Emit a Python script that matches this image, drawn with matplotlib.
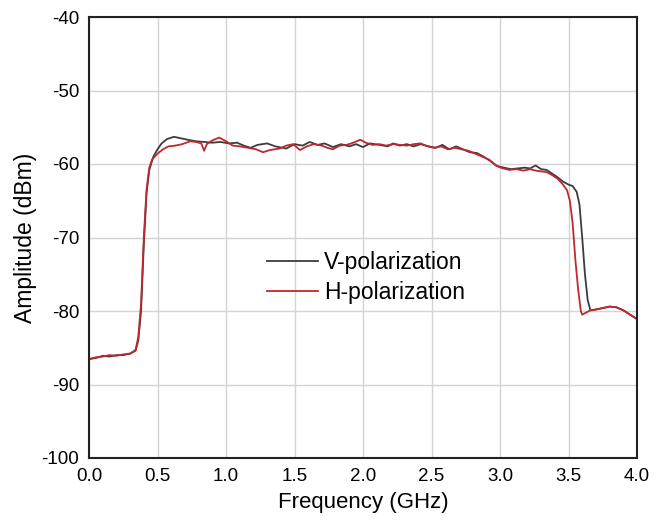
import matplotlib
matplotlib.use('Agg')
from matplotlib import pyplot as plt

plt.rcParams['font.family'] = ['Liberation Sans', 'DejaVu Sans']
plt.rcParams['axes.unicode_minus'] = False

# V-polarization trace
v_freq = [0.00, 0.05, 0.10, 0.15, 0.20, 0.25, 0.30, 0.34, 0.36, 0.38,
          0.40, 0.42, 0.44, 0.47, 0.50, 0.53, 0.57, 0.62, 0.67, 0.72,
          0.78, 0.84, 0.90, 0.96, 1.02, 1.08, 1.13, 1.18, 1.23, 1.30,
          1.36, 1.44, 1.50, 1.56, 1.61, 1.67, 1.72, 1.78, 1.84, 1.90,
          1.95, 2.00, 2.05, 2.12, 2.18, 2.22, 2.27, 2.32, 2.37, 2.42,
          2.48, 2.53, 2.58, 2.63, 2.68, 2.73, 2.78, 2.83, 2.88, 2.93,
          2.98, 3.03, 3.08, 3.13, 3.18, 3.22, 3.26, 3.30, 3.34, 3.38,
          3.42, 3.46, 3.50, 3.53, 3.56, 3.58, 3.60, 3.62, 3.64, 3.66,
          3.70, 3.75, 3.80, 3.85, 3.90, 3.95, 4.00]
v_amp = [-86.5, -86.4, -86.1, -86.2, -86.0, -86.0, -85.8, -85.4, -84.0, -80.0,
         -71.0, -64.0, -60.8, -59.0, -58.0, -57.2, -56.6, -56.3, -56.5, -56.7,
         -56.9, -57.0, -57.1, -57.0, -57.2, -57.1, -57.5, -57.8, -57.4, -57.2,
         -57.6, -57.9, -57.3, -57.5, -57.0, -57.4, -57.2, -57.7, -57.3, -57.6,
         -57.3, -57.7, -57.2, -57.4, -57.6, -57.2, -57.5, -57.3, -57.6, -57.3,
         -57.6, -57.8, -57.4, -58.0, -57.6, -58.0, -58.4, -58.5, -59.0, -59.6,
         -60.3, -60.5, -60.7, -60.6, -60.5, -60.6, -60.2, -60.7, -60.8, -61.3,
         -61.8, -62.4, -62.8, -63.0, -63.8, -65.5, -70.0, -75.0, -78.5, -79.9,
         -79.8, -79.6, -79.4, -79.5, -79.9, -80.5, -81.1]

# H-polarization trace
h_freq = [0.00, 0.05, 0.10, 0.15, 0.20, 0.25, 0.30, 0.34, 0.36, 0.38,
          0.40, 0.42, 0.44, 0.46, 0.48, 0.50, 0.54, 0.58, 0.63, 0.68,
          0.74, 0.78, 0.82, 0.84, 0.86, 0.90, 0.95, 1.00, 1.05, 1.10,
          1.16, 1.22, 1.27, 1.32, 1.39, 1.44, 1.49, 1.54, 1.59, 1.64,
          1.70, 1.74, 1.78, 1.83, 1.88, 1.93, 1.98, 2.02, 2.07, 2.12,
          2.17, 2.22, 2.27, 2.32, 2.37, 2.42, 2.47, 2.52, 2.57, 2.62,
          2.67, 2.72, 2.77, 2.82, 2.87, 2.92, 2.97, 3.02, 3.07, 3.12,
          3.17, 3.22, 3.26, 3.30, 3.34, 3.38, 3.42, 3.46, 3.49, 3.51,
          3.53, 3.55, 3.57, 3.59, 3.60, 3.62, 3.66, 3.70, 3.75, 3.80,
          3.85, 3.90, 3.95, 4.00]
h_amp = [-86.6, -86.3, -86.2, -86.0, -86.1, -85.9, -85.8, -85.3, -83.5, -79.0,
         -70.0, -63.5, -60.5, -59.4, -59.0, -58.6, -58.0, -57.6, -57.5, -57.3,
         -56.9, -57.0, -57.2, -58.2, -57.3, -56.8, -56.4, -56.9, -57.5, -57.6,
         -57.8, -58.0, -58.4, -58.1, -57.9, -57.5, -57.3, -58.1, -57.6, -57.3,
         -57.5, -57.8, -58.0, -57.5, -57.4, -57.1, -56.7, -57.1, -57.4, -57.3,
         -57.5, -57.3, -57.4, -57.5, -57.3, -57.2, -57.6, -57.8, -57.6, -58.0,
         -57.8, -58.0, -58.2, -58.6, -59.0, -59.4, -60.2, -60.6, -60.8, -60.7,
         -60.9, -60.7, -60.9, -61.0, -61.1, -61.5, -62.0, -62.8, -63.6, -65.0,
         -68.0, -73.0, -77.0, -80.0, -80.5, -80.3, -79.9, -79.8, -79.6, -79.4,
         -79.5, -79.9, -80.5, -81.1]

x_ticks = [0.0, 0.5, 1.0, 1.5, 2.0, 2.5, 3.0, 3.5, 4.0]
y_ticks = [-100, -90, -80, -70, -60, -50, -40]

fig = plt.figure(figsize=(6.66, 5.25), dpi=100)
ax = fig.add_axes([89 / 666, 1 - 458 / 525, 548 / 666, 441 / 525])

ax.plot(v_freq, v_amp, color='#3c3c3c', lw=1.3, label='V-polarization')
ax.plot(h_freq, h_amp, color='#c0282e', lw=1.3, label='H-polarization')

ax.set_xlim(0, 4)
ax.set_ylim(-100, -40)
ax.set_xticks(x_ticks)
ax.set_xticklabels([f'{t:.1f}' for t in x_ticks])
ax.set_yticks(y_ticks)
ax.grid(True, color='#d4d4d4', lw=1)
ax.set_axisbelow(True)
ax.tick_params(length=0, labelsize=13.5, pad=7)
for s in ax.spines.values():
    s.set_linewidth(1.5)
    s.set_color('#222222')

ax.set_xlabel('Frequency (GHz)', fontsize=16, labelpad=5)
ax.set_ylabel('Amplitude (dBm)', fontsize=16.5, labelpad=3)

ax.legend(loc='center left', bbox_to_anchor=(0.325, 0.41), frameon=False,
          fontsize=16.5, handlelength=2.2, handletextpad=0.3, borderpad=0,
          borderaxespad=0, labelspacing=0.3)

fig.savefig('out.png', dpi=100)
